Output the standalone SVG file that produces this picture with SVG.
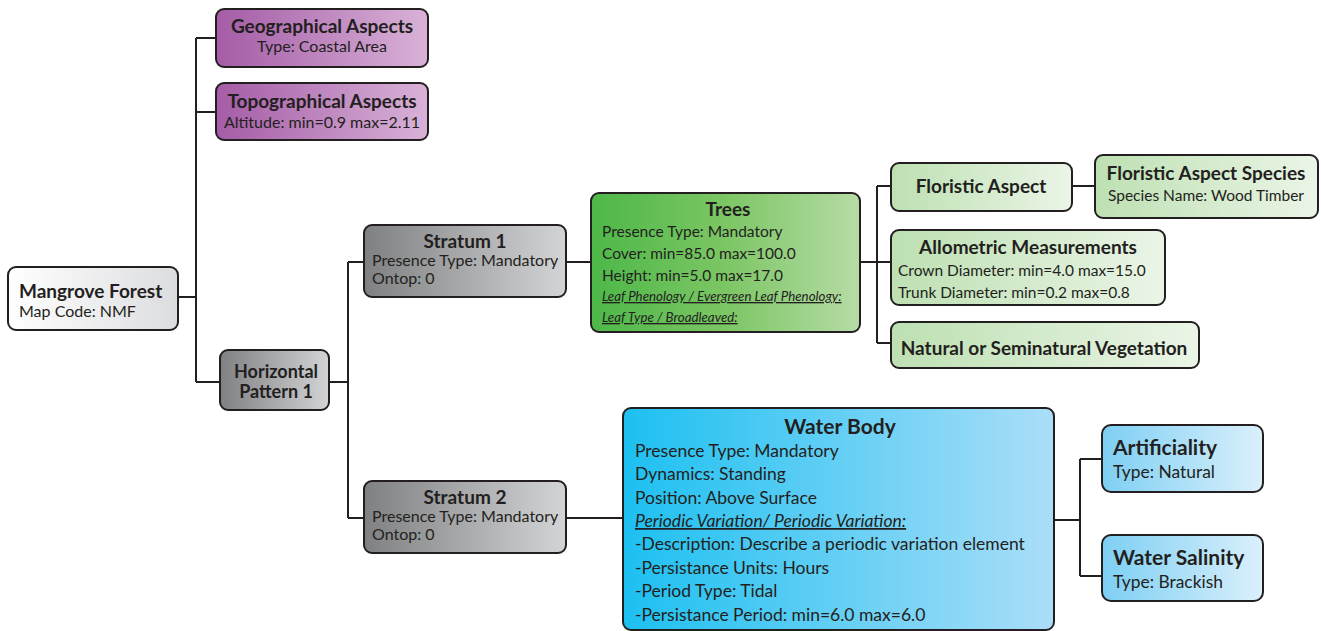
<svg xmlns="http://www.w3.org/2000/svg" width="1321" height="631" viewBox="0 0 1321 631">
  <defs>
    <linearGradient id="gPurple" x1="0" y1="0" x2="1" y2="0">
      <stop offset="0" stop-color="#a45ca6"/>
      <stop offset="1" stop-color="#d9b2d8"/>
    </linearGradient>
    <linearGradient id="gGray" x1="0" y1="0" x2="1" y2="0">
      <stop offset="0" stop-color="#7f8082"/>
      <stop offset="1" stop-color="#d3d4d6"/>
    </linearGradient>
    <linearGradient id="gWhite" x1="0" y1="0" x2="1" y2="0">
      <stop offset="0" stop-color="#ffffff"/>
      <stop offset="1" stop-color="#dcdddf"/>
    </linearGradient>
    <linearGradient id="gGreen" x1="0" y1="0" x2="1" y2="0">
      <stop offset="0" stop-color="#4db848"/>
      <stop offset="0.5" stop-color="#7cc664"/>
      <stop offset="1" stop-color="#b6dca6"/>
    </linearGradient>
    <linearGradient id="gLightGreen" x1="0" y1="0" x2="1" y2="0">
      <stop offset="0" stop-color="#bde0b2"/>
      <stop offset="1" stop-color="#ebf5e7"/>
    </linearGradient>
    <linearGradient id="gBlue" x1="0" y1="0" x2="1" y2="0">
      <stop offset="0" stop-color="#1cc0f1"/>
      <stop offset="1" stop-color="#abdef8"/>
    </linearGradient>
    <linearGradient id="gLightBlue" x1="0" y1="0" x2="1" y2="0">
      <stop offset="0" stop-color="#7dcff4"/>
      <stop offset="1" stop-color="#dbf0fb"/>
    </linearGradient>
  </defs>
  <style>
    .box { stroke: #231f20; stroke-width: 2; }
    .wire { fill: none; stroke: #231f20; stroke-width: 2; }
    text { font-family: Lato, "Open Sans", "Liberation Sans", sans-serif; fill: #231f20; }
    .t { font-weight: bold; font-size: 19px; }
    .s { font-size: 16px; }
    .m { font-size: 15.5px; }
    .c { text-anchor: middle; }
    .ul { font-style: italic; text-decoration: underline; font-size: 13.3px; }
    .wb { font-size: 17.5px; }
    .bt { font-weight: bold; font-size: 21px; }
    .bs { font-size: 17.4px; }
  </style>

  <!-- connectors -->
  <g id="connectors">
    <path class="wire" d="M178 297 H196 M196 38 V382 M196 38 H216 M196 112 H216 M196 382 H220"/>
    <path class="wire" d="M329 382 H348 M348 262 V518 M348 262 H364 M348 518 H364"/>
    <path class="wire" d="M566 262 H591"/>
    <path class="wire" d="M860 262 H877 M877 186 V343 M877 186 H891 M877 262 H891 M877 343 H891"/>
    <path class="wire" d="M1072 186 H1095"/>
    <path class="wire" d="M566 518 H623"/>
    <path class="wire" d="M1054 520 H1080 M1080 459 V576 M1080 459 H1102 M1080 576 H1102"/>
  </g>

  <g id="geographical">
    <rect class="box" x="216" y="9" width="212" height="58" rx="8" fill="url(#gPurple)"/>
    <text class="t c" x="322" y="33">Geographical Aspects</text>
    <text class="s c" x="322" y="52">Type:  Coastal Area</text>
  </g>

  <g id="topographical">
    <rect class="box" x="216" y="83" width="212" height="57" rx="8" fill="url(#gPurple)"/>
    <text class="t c" x="322" y="108">Topographical Aspects</text>
    <text class="s c" x="322" y="128">Altitude: min=0.9 max=2.11</text>
  </g>

  <g id="mangrove">
    <rect class="box" x="8" y="267" width="170" height="63" rx="8" fill="url(#gWhite)"/>
    <text class="t" x="19" y="298">Mangrove Forest</text>
    <text class="s" x="19" y="317">Map Code: NMF</text>
  </g>

  <g id="horizontal-pattern">
    <rect class="box" x="220" y="350" width="109" height="60" rx="8" fill="url(#gGray)"/>
    <text class="c" x="276" y="378" style="font-weight:bold;font-size:18px">Horizontal</text>
    <text class="c" x="276" y="398" style="font-weight:bold;font-size:18px">Pattern 1</text>
  </g>

  <g id="stratum1">
    <rect class="box" x="364" y="225" width="202" height="72" rx="8" fill="url(#gGray)"/>
    <text class="t c" x="465" y="248">Stratum 1</text>
    <text class="s" x="372" y="266">Presence Type: Mandatory</text>
    <text class="s" x="372" y="284">Ontop: 0</text>
  </g>

  <g id="stratum2">
    <rect class="box" x="364" y="481" width="202" height="72" rx="8" fill="url(#gGray)"/>
    <text class="t c" x="465" y="504">Stratum 2</text>
    <text class="s" x="372" y="522">Presence Type: Mandatory</text>
    <text class="s" x="372" y="540">Ontop: 0</text>
  </g>

  <g id="trees">
    <rect class="box" x="591" y="193" width="269" height="139" rx="8" fill="url(#gGreen)"/>
    <text class="t c" x="728" y="216">Trees</text>
    <text class="m" x="602" y="237">Presence Type: Mandatory</text>
    <text class="m" x="602" y="259">Cover: min=85.0 max=100.0</text>
    <text class="m" x="602" y="281">Height: min=5.0 max=17.0</text>
    <text class="ul" x="602" y="301">Leaf Phenology / Evergreen Leaf Phenology:</text>
    <text class="ul" x="602" y="322">Leaf Type / Broadleaved:</text>
  </g>

  <g id="floristic-aspect">
    <rect class="box" x="891" y="163" width="181" height="48" rx="8" fill="url(#gLightGreen)"/>
    <text class="t c" x="981" y="193">Floristic Aspect</text>
  </g>

  <g id="floristic-species">
    <rect class="box" x="1095" y="155" width="223" height="63" rx="8" fill="url(#gLightGreen)"/>
    <text class="t c" x="1206" y="180">Floristic Aspect Species</text>
    <text class="m c" x="1206" y="201">Species Name: Wood Timber</text>
  </g>

  <g id="allometric">
    <rect class="box" x="891" y="230" width="274" height="75" rx="8" fill="url(#gLightGreen)"/>
    <text class="t c" x="1028" y="254">Allometric Measurements</text>
    <text class="m" x="898" y="276">Crown Diameter: min=4.0 max=15.0</text>
    <text class="m" x="898" y="298">Trunk Diameter: min=0.2 max=0.8</text>
  </g>

  <g id="natural-vegetation">
    <rect class="box" x="891" y="322" width="308" height="46" rx="8" fill="url(#gLightGreen)"/>
    <text class="t c" x="1044" y="355">Natural or Seminatural Vegetation</text>
  </g>

  <g id="water-body">
    <rect class="box" x="623" y="408" width="431" height="222" rx="8" fill="url(#gBlue)"/>
    <text class="bt c" x="840" y="434">Water Body</text>
    <text class="wb" x="635" y="457">Presence Type: Mandatory</text>
    <text class="wb" x="635" y="480">Dynamics: Standing</text>
    <text class="wb" x="635" y="504">Position: Above Surface</text>
    <text class="wb" x="635" y="527" style="font-style:italic;text-decoration:underline">Periodic Variation/ Periodic Variation:</text>
    <text class="wb" x="635" y="550">-Description: Describe a periodic variation element</text>
    <text class="wb" x="635" y="574">-Persistance Units: Hours</text>
    <text class="wb" x="635" y="597">-Period Type: Tidal</text>
    <text class="wb" x="635" y="621">-Persistance Period: min=6.0 max=6.0</text>
  </g>

  <g id="artificiality">
    <rect class="box" x="1102" y="425" width="161" height="67" rx="9" fill="url(#gLightBlue)"/>
    <text class="bt" x="1113" y="455">Artificiality</text>
    <text class="bs" x="1113" y="478">Type: Natural</text>
  </g>

  <g id="water-salinity">
    <rect class="box" x="1102" y="535" width="161" height="66" rx="9" fill="url(#gLightBlue)"/>
    <text class="bt" x="1113" y="565">Water Salinity</text>
    <text class="bs" x="1113" y="588">Type: Brackish</text>
  </g>
</svg>
